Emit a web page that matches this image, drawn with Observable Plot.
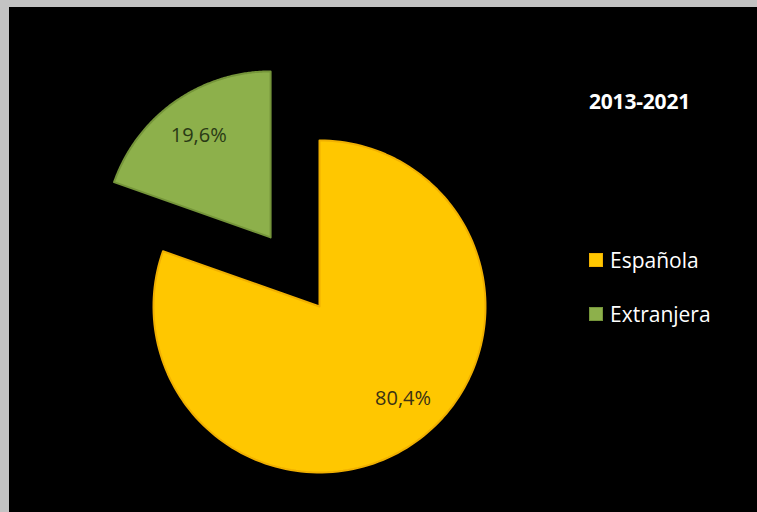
<!DOCTYPE html>
<html><head><meta charset="utf-8">
<script src="https://cdn.jsdelivr.net/npm/d3@7"></script>
<script src="https://cdn.jsdelivr.net/npm/@observablehq/plot@0.6"></script>
<style>
html,body{margin:0;padding:0;background:#000;width:757px;height:512px;overflow:hidden}
#bt{position:absolute;left:0;top:0;width:800px;height:7px;background:#c3c3c3}
#bl{position:absolute;left:0;top:0;width:9px;height:600px;background:#c3c3c3}
#frame{position:absolute;left:9px;top:7px;width:760px;height:510px;background:#000;overflow:hidden}
#frame svg{position:absolute;left:0;top:0;background:#000;max-width:none}
.ttl{position:absolute;left:580px;top:80px;color:#fff;font:bold 21px "Open Sans",sans-serif;letter-spacing:-0.2px}
.leg{position:absolute;left:580px;color:#fff;font:21px "Open Sans",sans-serif;display:flex;align-items:center;white-space:nowrap}
.sw{width:14px;height:14px;margin-right:7px;box-sizing:border-box}
</style></head><body><div id="bt"></div><div id="bl"></div><div id="frame"></div>
<script>
const categories = ["Española", "Extranjera"];
const values = [80.4, 19.6];
const valueLabels = ["80,4%", "19,6%"];
const period = "2013-2021";

const colors = ["#FFC700", "#8DB04B"];
const rims = ["#F0B000", "#75953A"];
const labelColors = ["#3a3214", "#2a3a15"];
const explode = [0, 0.51];

const W = 760, H = 510, cx = 310, cy = 299, R = 166;

const arcs = d3.pie().sort(null).value(d => d)(values);
const slices = arcs.map((p, i) => {
  const mid = (p.startAngle + p.endAngle) / 2;
  const ox = explode[i] * Math.sin(mid), oy = explode[i] * Math.cos(mid);
  const pts = [{x: ox, y: oy}];
  const n = 160;
  for (let k = 0; k <= n; k++) {
    const a = p.startAngle + (p.endAngle - p.startAngle) * k / n;
    pts.push({x: ox + Math.sin(a), y: oy + Math.cos(a)});
  }
  pts.push({x: ox, y: oy});
  const lr = 0.75, la = i === 0 ? mid - 0.12 : mid;
  return {pts, label: {x: ox + lr * Math.sin(la), y: oy + lr * Math.cos(la), text: valueLabels[i], i}};
});

const chart = Plot.plot({
  width: W, height: H,
  margin: 0,
  style: {background: "#000"},
  x: {domain: [-cx / R, (W - cx) / R], range: [0, W], axis: null},
  y: {domain: [cy / R, -(H - cy) / R], range: [0, H], axis: null},
  marks: [
    ...slices.map((s, i) => Plot.line(s.pts, {x: "x", y: "y", fill: colors[i], stroke: rims[i], strokeWidth: 2, strokeLinejoin: "round"})),
    Plot.text(slices.map(s => s.label), {x: "x", y: "y", text: "text", fill: d => labelColors[d.i], fontSize: 20, fontFamily: "Open Sans, sans-serif"})
  ]
});
const frame = document.getElementById("frame");
frame.appendChild(chart);

const t = document.createElement("div");
t.className = "ttl"; t.textContent = period;
frame.appendChild(t);
const legTops = [239, 293];
categories.forEach((c, i) => {
  const d = document.createElement("div");
  d.className = "leg"; d.style.top = legTops[i] + "px";
  const sw = document.createElement("div");
  sw.className = "sw"; sw.style.background = colors[i]; sw.style.border = "1px solid " + rims[i];
  const tx = document.createElement("span"); tx.textContent = c;
  d.appendChild(sw); d.appendChild(tx);
  frame.appendChild(d);
});
</script></body></html>
